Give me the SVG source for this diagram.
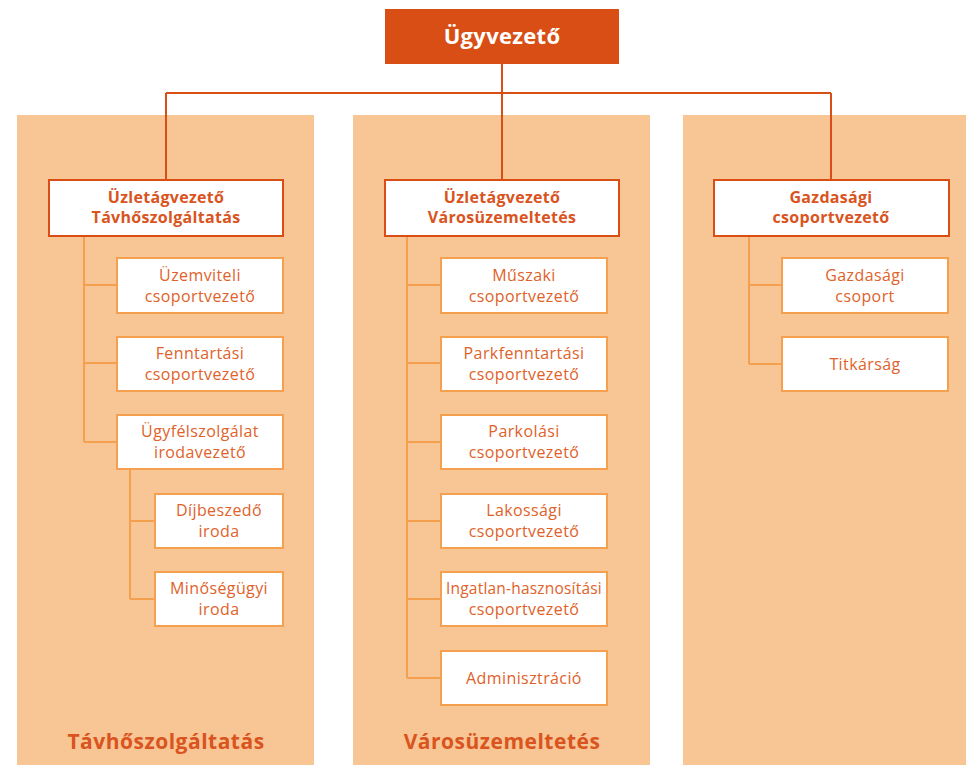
<svg xmlns="http://www.w3.org/2000/svg" width="966" height="765" viewBox="0 0 966 765">
<style>
.panel{fill:#F8C594}
.l2{fill:#fff;stroke:#D94E14;stroke-width:2}
.l3{fill:#fff;stroke:#F5A04E;stroke-width:2}
.t2{font-family:"Open Sans","Noto Sans",sans-serif;font-weight:bold;font-size:16px;letter-spacing:0.3px;fill:#D9541E;text-anchor:middle}
.t3{font-family:"Open Sans","Noto Sans",sans-serif;font-size:16px;letter-spacing:0.4px;fill:#E0622A;text-anchor:middle}
.t3s{font-size:15.5px;letter-spacing:0.2px}
.tb{font-family:"Open Sans","Noto Sans",sans-serif;font-weight:bold;font-size:21px;letter-spacing:0.5px;fill:#D9541E;text-anchor:middle}
.c1{fill:none;stroke:#D94E14;stroke-width:2}
.c2{fill:none;stroke:#F5A04E;stroke-width:2}
</style>
<rect width="966" height="765" fill="#fff"/>
<g id="panels">
<rect class="panel" x="17" y="115" width="297" height="650"/>
<rect class="panel" x="353" y="115" width="297" height="650"/>
<rect class="panel" x="683" y="115" width="283" height="650"/>
<text class="tb" x="166" y="749">Távhőszolgáltatás</text>
<text class="tb" x="502" y="749">Városüzemeltetés</text>
</g>
<g id="connectors">
<path class="c1" d="M502 64V93M166 93H831M166 93V180M502 93V180M831 93V180"/>
<path class="c2" d="M84 236V442M84 285H117M84 363H117M84 442H117M130 469V599M130 521H155M130 599H155"/>
<path class="c2" d="M407 236V678M407 285H441M407 363H441M407 442H441M407 521H441M407 599H441M407 678H441"/>
<path class="c2" d="M749 236V364M749 285H782M749 364H782"/>
</g>
<g id="ugyvezeto">
<rect x="385" y="9" width="234" height="55" fill="#D94E14"/>
<text x="502" y="44" font-family="'Open Sans','Noto Sans',sans-serif" font-weight="bold" font-size="22" letter-spacing="0.3" fill="#fff" text-anchor="middle">Ügyvezető</text>
</g>
<g id="uzl-tavho">
<rect class="l2" x="49" y="180" width="234" height="56"/>
<text class="t2" x="166" y="203">Üzletágvezető</text>
<text class="t2" x="166" y="223">Távhőszolgáltatás</text>
</g>
<g id="uzl-varos">
<rect class="l2" x="385" y="180" width="234" height="56"/>
<text class="t2" x="502" y="203">Üzletágvezető</text>
<text class="t2" x="502" y="223">Városüzemeltetés</text>
</g>
<g id="gazd-vez">
<rect class="l2" x="714" y="180" width="235" height="56"/>
<text class="t2" x="831" y="203">Gazdasági</text>
<text class="t2" x="831" y="223">csoportvezető</text>
</g>
<g id="uzemviteli">
<rect class="l3" x="117" y="258" width="166" height="55"/>
<text class="t3" x="200" y="281">Üzemviteli</text>
<text class="t3" x="200" y="302">csoportvezető</text>
</g>
<g id="fenntartasi">
<rect class="l3" x="117" y="337" width="166" height="54"/>
<text class="t3" x="200" y="359">Fenntartási</text>
<text class="t3" x="200" y="380">csoportvezető</text>
</g>
<g id="ugyfel">
<rect class="l3" x="117" y="415" width="166" height="54"/>
<text class="t3" x="200" y="437">Ügyfélszolgálat</text>
<text class="t3" x="200" y="458">irodavezető</text>
</g>
<g id="dijbeszedo">
<rect class="l3" x="155" y="494" width="128" height="54"/>
<text class="t3" x="219" y="516">Díjbeszedő</text>
<text class="t3" x="219" y="537">iroda</text>
</g>
<g id="minoseg">
<rect class="l3" x="155" y="572" width="128" height="54"/>
<text class="t3" x="219" y="594">Minőségügyi</text>
<text class="t3" x="219" y="615">iroda</text>
</g>
<g id="muszaki">
<rect class="l3" x="441" y="258" width="166" height="55"/>
<text class="t3" x="524" y="281">Műszaki</text>
<text class="t3" x="524" y="302">csoportvezető</text>
</g>
<g id="parkfenn">
<rect class="l3" x="441" y="337" width="166" height="54"/>
<text class="t3" x="524" y="359">Parkfenntartási</text>
<text class="t3" x="524" y="380">csoportvezető</text>
</g>
<g id="parkolasi">
<rect class="l3" x="441" y="415" width="166" height="54"/>
<text class="t3" x="524" y="437">Parkolási</text>
<text class="t3" x="524" y="458">csoportvezető</text>
</g>
<g id="lakossagi">
<rect class="l3" x="441" y="494" width="166" height="54"/>
<text class="t3" x="524" y="516">Lakossági</text>
<text class="t3" x="524" y="537">csoportvezető</text>
</g>
<g id="ingatlan">
<rect class="l3" x="441" y="572" width="166" height="54"/>
<text class="t3 t3s" x="524" y="594">Ingatlan-hasznosítási</text>
<text class="t3" x="524" y="615">csoportvezető</text>
</g>
<g id="admin">
<rect class="l3" x="441" y="651" width="166" height="54"/>
<text class="t3" x="524" y="684">Adminisztráció</text>
</g>
<g id="gazd-csop">
<rect class="l3" x="782" y="258" width="166" height="55"/>
<text class="t3" x="865" y="281">Gazdasági</text>
<text class="t3" x="865" y="302">csoport</text>
</g>
<g id="titkarsag">
<rect class="l3" x="782" y="337" width="166" height="54"/>
<text class="t3" x="865" y="370">Titkárság</text>
</g>
</svg>
